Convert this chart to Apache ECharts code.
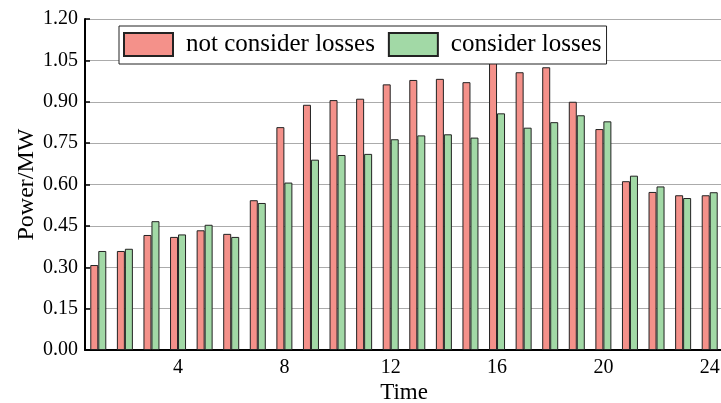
<!DOCTYPE html>
<html>
<head>
<meta charset="utf-8">
<script src="https://cdn.jsdelivr.net/npm/echarts@6/dist/echarts.min.js"></script>
<style>html,body{margin:0;padding:0;background:#fff}#c{width:721px;height:403px}</style>
</head>
<body>
<div id="c"></div>
<script>
const categories = ['1','2','3','4','5','6','7','8','9','10','11','12','13','14','15','16','17','18','19','20','21','22','23','24'];
const notConsiderLosses = [0.308,0.359,0.417,0.410,0.434,0.421,0.543,0.808,0.889,0.906,0.911,0.963,0.979,0.983,0.971,1.045,1.007,1.025,0.900,0.801,0.612,0.573,0.561,0.561];
const considerLosses = [0.359,0.367,0.467,0.419,0.454,0.410,0.533,0.607,0.690,0.707,0.711,0.764,0.778,0.782,0.770,0.858,0.806,0.826,0.851,0.829,0.632,0.593,0.551,0.572];
const seriesNames = ['not consider losses','consider losses'];
const yTicks = {min:0, max:1.2, interval:0.15};

const FONT = '"Liberation Serif","Times New Roman",serif';
const chart = echarts.init(document.getElementById('c'), null, {renderer:'canvas'});
const showEvery4 = (idx) => (idx + 1) % 4 === 0;
chart.setOption({
  animation:false,
  backgroundColor:'#fff',
  grid:{left:85, right:-2, top:19, bottom:53, containLabel:false, outerBoundsMode:'none'},
  legend:{
    left:119, top:26,
    backgroundColor:'#fff', borderColor:'#222', borderWidth:1,
    padding:[6,5,7,4], itemWidth:49, itemHeight:23, itemGap:13,
    icon:'rect',
    textStyle:{fontFamily:FONT, fontSize:25, color:'#000', padding:[0,0,0,8], lineHeight:23},
    data:seriesNames
  },
  xAxis:{
    type:'category', data:categories,
    name:'Time', nameLocation:'middle', nameGap:31, nameMoveOverlap:false,
    nameTextStyle:{fontFamily:FONT, fontSize:23, color:'#000'},
    axisLine:{lineStyle:{color:'#000', width:2}},
    axisTick:{inside:true, length:5, alignWithLabel:true, interval:showEvery4, lineStyle:{color:'#000', width:1.5}},
    axisLabel:{interval:showEvery4, fontFamily:FONT, fontSize:20, color:'#000', margin:8},
    splitLine:{show:false}
  },
  yAxis:{
    type:'value', min:yTicks.min, max:yTicks.max, interval:yTicks.interval,
    name:'Power/MW', nameLocation:'middle', nameGap:46, nameMoveOverlap:false,
    nameTextStyle:{fontFamily:FONT, fontSize:24, color:'#000'},
    axisLine:{show:true, lineStyle:{color:'#000', width:2}},
    axisTick:{show:true, inside:true, length:5, lineStyle:{color:'#000', width:1.5}},
    axisLabel:{fontFamily:FONT, fontSize:20, color:'#000', margin:7, formatter:(v)=>v.toFixed(2)},
    splitLine:{show:true, lineStyle:{color:'#ababab', width:1.2}}
  },
  series:[
    {name:seriesNames[0], type:'bar', data:notConsiderLosses, barWidth:8, barGap:'0%',
     itemStyle:{color:'#F4918A', borderColor:'#222', borderWidth:1}},
    {name:seriesNames[1], type:'bar', data:considerLosses, barWidth:8, barGap:'0%',
     itemStyle:{color:'#A2D9A6', borderColor:'#222', borderWidth:1}}
  ]
});
</script>
</body>
</html>
